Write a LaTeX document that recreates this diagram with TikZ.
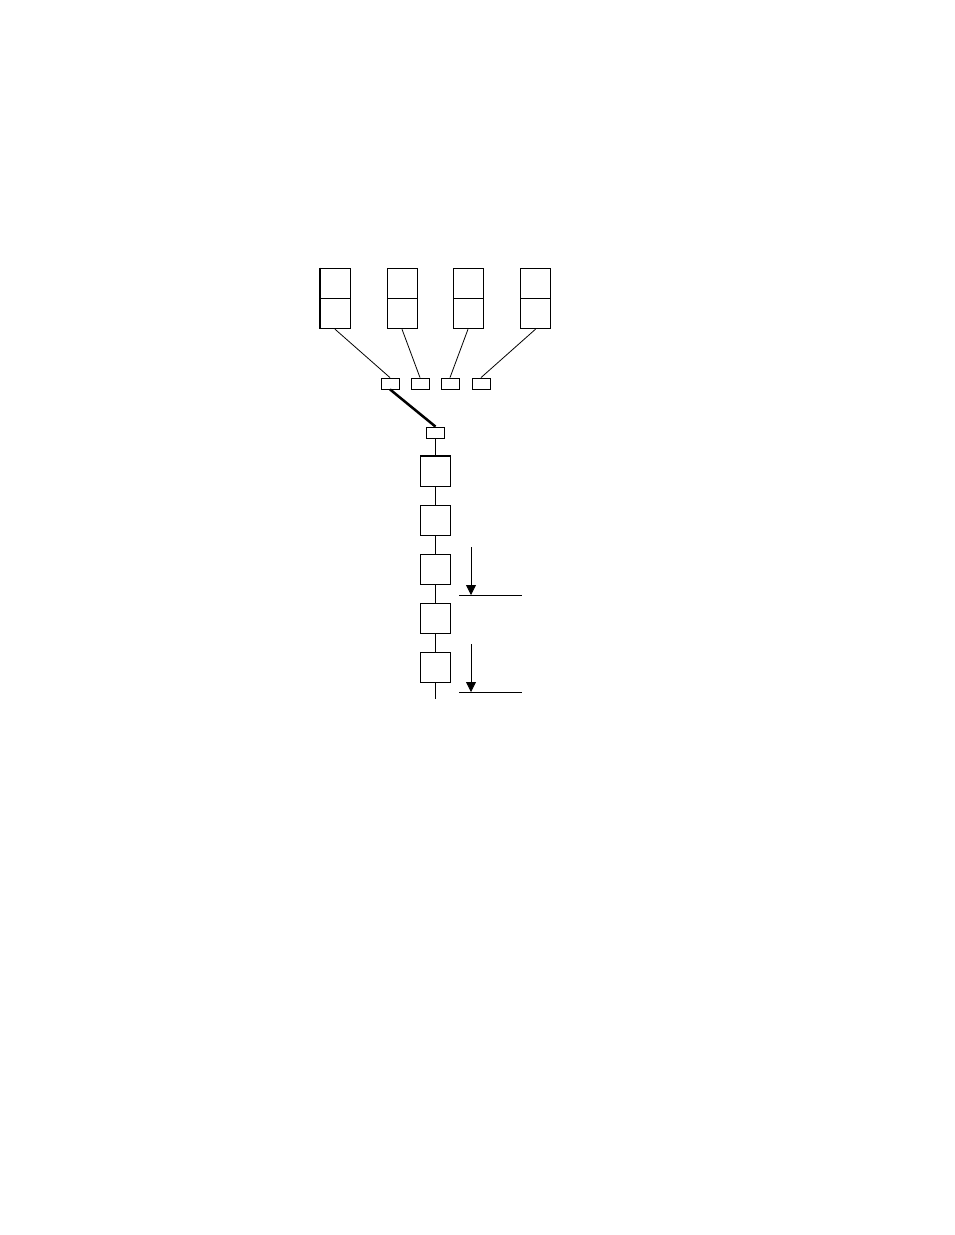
\documentclass[tikz,border=0pt]{standalone}
\usetikzlibrary{positioning,arrows.meta}
\begin{document}
\begin{tikzpicture}[
        x=1pt, y=-1pt, line width=0.8pt,
        cell/.style={draw, minimum width=30pt, minimum height=30pt, inner sep=0pt},
        port/.style={draw, minimum width=18pt, minimum height=11pt, inner sep=0pt},
        drop/.style={-{Triangle[width=10pt,length=10pt]}},
        node distance=18pt
    ]
    \useasboundingbox (0,0) rectangle (954,1235);
    % upper blocks
    \foreach \x [count=\i] in {335,402,468,535.5} {
        \node[cell] (up\i) at (\x,283) {};
        \node[cell, below=0pt of up\i] (lo\i) {};
    }
    \draw[line width=2pt] (up1.north west) -- (lo1.south west);
    % ports
    \foreach \x [count=\i] in {390,420,450,481} {
        \node[port] (p\i) at (\x,383.5) {};
        \draw (lo\i.south) -- (p\i.north);
    }
    \node[port] (hub) at (435.5,432.5) {};
    \draw[line width=2.5pt] (p1.south) -- (hub.north);
    % chain
    \node[cell, below=of hub] (q1) {};
    \node[cell, below=of q1] (q2) {};
    \node[cell, below=of q2] (q3) {};
    \node[cell, below=of q3] (q4) {};
    \node[cell, below=of q4] (q5) {};
    \coordinate[below=17pt of q5] (tail);
    \draw[line width=2pt] (q1.north west) -- (q1.north east);
    \foreach \a/\b in {hub/q1,q1/q2,q2/q3,q3/q4,q4/q5}
        \draw (\a.south) -- (\b.north);
    \draw (q5.south) -- (tail);
    % markers
    \foreach \y [count=\i] in {547,644} {
        \coordinate (m\i) at (471,\y);
        \coordinate (f\i) at (471,\y+48);
        \coordinate (ml\i) at (459,\y+48);
        \coordinate (mr\i) at (522,\y+48);
        \draw[drop] (m\i) -- (f\i);
        \draw (ml\i) -- (mr\i);
    }
\end{tikzpicture}
\end{document}
